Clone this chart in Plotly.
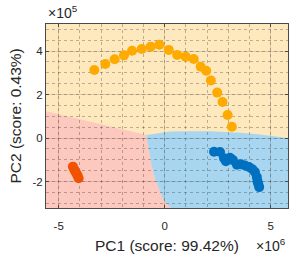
import plotly.graph_objects as go

# ---- data (PC1 in units of 1e6, PC2 in units of 1e5) ----
orange_pc1 = [-3.32, -2.80, -2.36, -1.92, -1.54, -1.08, -0.66, -0.25, 0.19, 0.59,
              0.99, 1.37, 1.70, 1.96, 2.18, 2.48, 2.73, 2.97, 3.17]
orange_pc2 = [3.13, 3.40, 3.62, 3.80, 4.01, 4.09, 4.20, 4.29, 4.05, 3.82,
              3.74, 3.63, 3.28, 3.09, 2.65, 2.09, 1.66, 1.06, 0.52]

red_pc1 = [-4.33, -4.27, -4.22, -4.16, -4.11, -4.06]
red_pc2 = [-1.31, -1.43, -1.53, -1.63, -1.72, -1.84]

blue_pc1 = [2.33, 2.61, 2.80, 2.89, 3.08, 3.22, 3.41, 3.60, 3.79, 3.98,
            4.14, 4.26, 4.35, 4.38, 4.42, 4.46]
blue_pc2 = [-0.63, -0.64, -0.92, -1.06, -0.90, -1.01, -1.22, -1.20, -1.26, -1.33,
            -1.43, -1.56, -1.79, -1.98, -2.11, -2.25]

# decision-region boundaries
pink_yellow_x = [-6.0, -0.86]
pink_yellow_y = [1.33, 0.14]
blue_yellow_x = [-0.86, 0.25, 1.19, 2.14, 3.55, 4.50, 5.82, 6.5]
blue_yellow_y = [0.14, 0.30, 0.32, 0.32, 0.25, 0.16, 0.0, -0.08]
pink_blue_x = [-0.86, -0.79, -0.69, -0.60, -0.46, -0.27, -0.08, 0.16, 0.34, 0.6]
pink_blue_y = [0.14, -0.32, -0.83, -1.33, -1.84, -2.34, -2.80, -3.08, -3.24, -3.5]
region_bottom = -3.5

x_tickvals = [-5, 0, 5]
x_ticktext = ["-5", "0", "5"]
y_tickvals = [-2, 0, 2, 4]
y_ticktext = ["-2", "0", "2", "4"]

x_title = "PC1 (score: 99.42%)"
y_title = "PC2 (score: 0.43%)"

C_ORANGE = "#FFAA00"
C_RED = "#F25200"
C_BLUE = "#0070C0"
R_YELLOW = "#FEE8BD"
R_PINK = "#FDC8BE"
R_BLUE = "#A8D6F0"


def path_from(xs, ys):
    return "M " + " L ".join(f"{a},{b}" for a, b in zip(xs, ys)) + " Z"


pink_xs = pink_yellow_x + pink_blue_x[1:] + [pink_yellow_x[0]]
pink_ys = pink_yellow_y + pink_blue_y[1:] + [region_bottom]
blue_xs = blue_yellow_x + [blue_yellow_x[-1]] + pink_blue_x[::-1]
blue_ys = blue_yellow_y + [region_bottom] + pink_blue_y[::-1]

fig = go.Figure()
for xs, ys, col in [(orange_pc1, orange_pc2, C_ORANGE),
                    (red_pc1, red_pc2, C_RED),
                    (blue_pc1, blue_pc2, C_BLUE)]:
    fig.add_trace(go.Scatter(x=xs, y=ys, mode="markers",
                             marker=dict(size=10, color=col, line=dict(width=0)),
                             showlegend=False))

fig.add_shape(type="path", path=path_from(pink_xs, pink_ys), xref="x", yref="y",
              fillcolor=R_PINK, line=dict(width=0), layer="below")
fig.add_shape(type="path", path=path_from(blue_xs, blue_ys), xref="x", yref="y",
              fillcolor=R_BLUE, line=dict(width=0), layer="below")

FONT = "Liberation Sans, Arial, sans-serif"
axis_common = dict(showline=True, linecolor="#4a4a4a", linewidth=1, mirror="ticks",
                   ticks="inside", ticklen=3, tickcolor="#4a4a4a",
                   showgrid=True, gridcolor="rgba(38,38,38,0.15)", gridwidth=1,
                   zeroline=False, tickfont=dict(family=FONT, size=11.5, color="#262626"))

fig.update_xaxes(range=[-5.6, 5.82], tickvals=x_tickvals, ticktext=x_ticktext,
                 ticklabelstandoff=7,
                 minor=dict(dtick=1, showgrid=True, griddash="dot",
                            gridcolor="rgba(38,38,38,0.3)", gridwidth=1),
                 **axis_common)
fig.update_yaxes(range=[-3.21, 5.24], tickvals=y_tickvals, ticktext=y_ticktext,
                 minor=dict(dtick=0.5, showgrid=True, griddash="dot",
                            gridcolor="rgba(38,38,38,0.3)", gridwidth=1),
                 **axis_common)

fig.add_annotation(text=x_title, xref="paper", yref="paper", x=0.5, y=0,
                   yshift=-37, xanchor="center", yanchor="middle", showarrow=False,
                   font=dict(family=FONT, size=15.5, color="#262626"))
fig.add_annotation(text=y_title, xref="paper", yref="paper", x=0, y=0.5,
                   xshift=-31.5, xanchor="center", yanchor="middle", textangle=-90,
                   showarrow=False, font=dict(family=FONT, size=15.5, color="#262626"))
fig.add_annotation(text="×10<sup>6</sup>", xref="paper", yref="paper", x=1, y=0,
                   yshift=-37, xanchor="right", yanchor="middle", showarrow=False,
                   font=dict(family=FONT, size=14, color="#262626"))
fig.add_annotation(text="×10<sup>5</sup>", xref="paper", yref="paper", x=0, y=1,
                   yshift=1, xanchor="left", yanchor="bottom", showarrow=False,
                   font=dict(family=FONT, size=14, color="#262626"))

fig.update_layout(width=298, height=258, autosize=False,
                  margin=dict(l=46, r=10, t=24, b=50),
                  plot_bgcolor=R_YELLOW, paper_bgcolor="white")

fig.write_html("out.html", config={"displayModeBar": False},
               post_script="document.body.style.margin='0';document.body.style.padding='0';")
